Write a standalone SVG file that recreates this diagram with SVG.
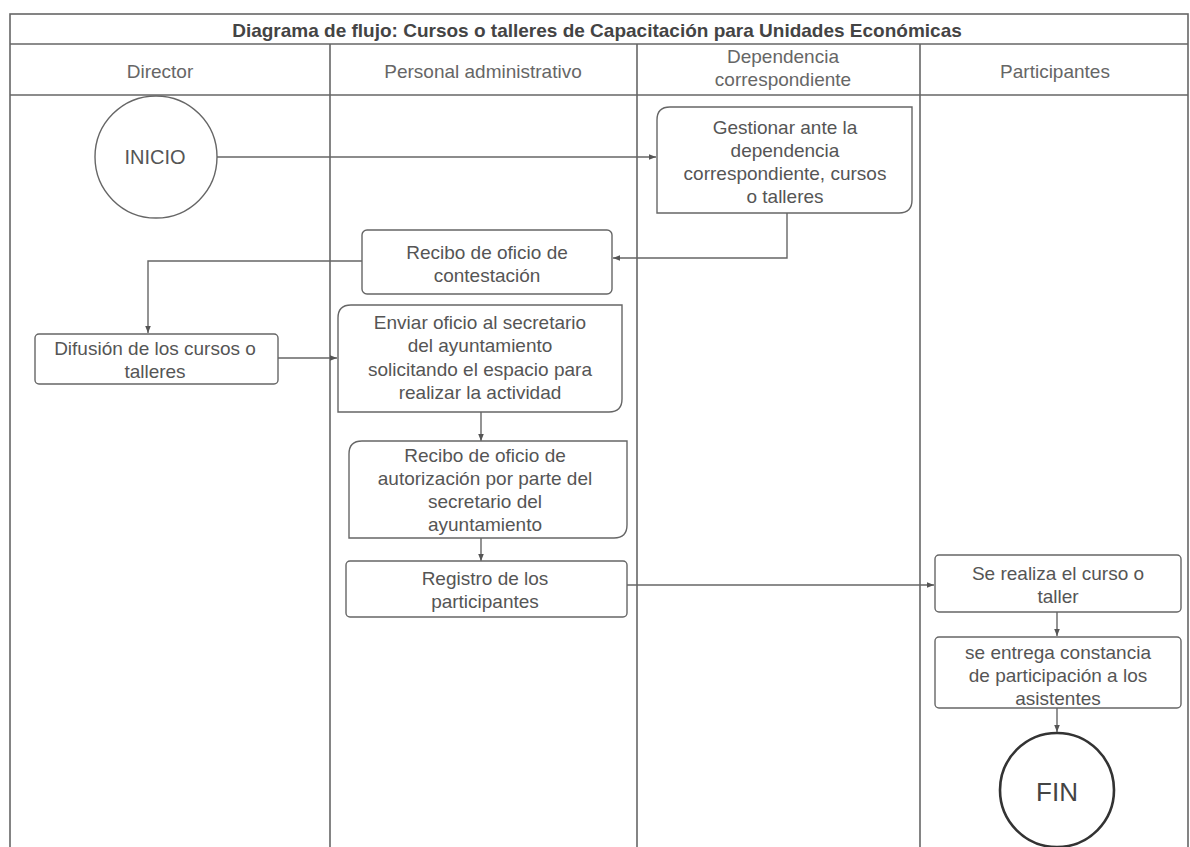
<svg xmlns="http://www.w3.org/2000/svg" width="1190" height="847" viewBox="0 0 1190 847">
  <defs>
    <style>
      .frame { fill: none; stroke: #666; stroke-width: 1.6; }
      .box { fill: #fff; stroke: #666; stroke-width: 1.4; }
      .conn { fill: none; stroke: #666; stroke-width: 1.4; }
      .t { font-family: "Liberation Sans", Arial, sans-serif; font-size: 19px; fill: #555; text-anchor: middle; }
      .hdr { font-family: "Liberation Sans", Arial, sans-serif; font-size: 19px; fill: #666; text-anchor: middle; }
      .title { font-family: "Liberation Sans", Arial, sans-serif; font-size: 19px; font-weight: bold; fill: #444; text-anchor: middle; }
      .inicio { font-size: 20px; }
      .fin { font-size: 26px; fill: #444; }
    </style>
    <marker id="arrow" viewBox="0 0 10 10" refX="10" refY="5" markerWidth="7" markerHeight="7" orient="auto" markerUnits="userSpaceOnUse">
      <path d="M0,1 L10,5 L0,9 z" fill="#555"/>
    </marker>
  </defs>
  <rect width="1190" height="847" fill="#fff"/>

  <!-- swimlane table -->
  <g id="lanes">
    <rect class="frame" x="10" y="14" width="1178" height="845"/>
    <line class="frame" x1="10" y1="44" x2="1188" y2="44"/>
    <line class="frame" x1="10" y1="95" x2="1188" y2="95"/>
    <line class="frame" x1="330" y1="44" x2="330" y2="847"/>
    <line class="frame" x1="637" y1="44" x2="637" y2="847"/>
    <line class="frame" x1="920" y1="44" x2="920" y2="847"/>
    <text class="title" x="597" y="37">Diagrama de flujo: Cursos o talleres de Capacitación para Unidades Económicas</text>
    <text class="hdr" x="160" y="78">Director</text>
    <text class="hdr" x="483" y="78">Personal administrativo</text>
    <text class="hdr" x="783" y="63">Dependencia</text>
    <text class="hdr" x="783" y="86">correspondiente</text>
    <text class="hdr" x="1055" y="78">Participantes</text>
  </g>

  <!-- connectors -->
  <g id="connectors">
    <path class="conn" d="M217,157 L656,157" marker-end="url(#arrow)"/>
    <path class="conn" d="M787,213 L787,258 L613,258" marker-end="url(#arrow)"/>
    <path class="conn" d="M362,261 L148,261 L148,333" marker-end="url(#arrow)"/>
    <path class="conn" d="M278,358 L337,358" marker-end="url(#arrow)"/>
    <path class="conn" d="M481,412 L481,441" marker-end="url(#arrow)"/>
    <path class="conn" d="M481,538 L481,561" marker-end="url(#arrow)"/>
    <path class="conn" d="M627,585 L934,585" marker-end="url(#arrow)"/>
    <path class="conn" d="M1057,612 L1057,636" marker-end="url(#arrow)"/>
    <path class="conn" d="M1057,708 L1057,732" marker-end="url(#arrow)"/>
  </g>

  <g id="inicio">
    <circle class="box" cx="156" cy="157" r="61"/>
    <text class="t inicio" x="155" y="164">INICIO</text>
  </g>

  <g id="gestionar">
    <path class="box" d="M670,107 L912,107 L912,200 Q912,213 899,213 L657,213 L657,120 Q657,107 670,107 Z"/>
    <text class="t" x="785" y="134">Gestionar ante la</text>
    <text class="t" x="785" y="157">dependencia</text>
    <text class="t" x="785" y="180">correspondiente, cursos</text>
    <text class="t" x="785" y="203">o talleres</text>
  </g>

  <g id="recibo-contestacion">
    <rect class="box" x="362" y="230" width="250" height="64" rx="5"/>
    <text class="t" x="487" y="259">Recibo de oficio de</text>
    <text class="t" x="487" y="282">contestación</text>
  </g>

  <g id="difusion">
    <rect class="box" x="35" y="334" width="243" height="50" rx="4"/>
    <text class="t" x="155" y="355">Difusión de los cursos o</text>
    <text class="t" x="155" y="378">talleres</text>
  </g>

  <g id="enviar-oficio">
    <path class="box" d="M351,305 L622,305 L622,399 Q622,412 609,412 L338,412 L338,318 Q338,305 351,305 Z"/>
    <text class="t" x="480" y="329">Enviar oficio al secretario</text>
    <text class="t" x="480" y="352">del ayuntamiento</text>
    <text class="t" x="480" y="376">solicitando el espacio para</text>
    <text class="t" x="480" y="399">realizar la actividad</text>
  </g>

  <g id="recibo-autorizacion">
    <path class="box" d="M362,441 L627,441 L627,525 Q627,538 614,538 L349,538 L349,454 Q349,441 362,441 Z"/>
    <text class="t" x="485" y="462">Recibo de oficio de</text>
    <text class="t" x="485" y="485">autorización por parte del</text>
    <text class="t" x="485" y="508">secretario del</text>
    <text class="t" x="485" y="531">ayuntamiento</text>
  </g>

  <g id="registro">
    <rect class="box" x="346" y="561" width="281" height="56" rx="4"/>
    <text class="t" x="485" y="585">Registro de los</text>
    <text class="t" x="485" y="608">participantes</text>
  </g>

  <g id="realiza-curso">
    <rect class="box" x="935" y="555" width="246" height="57" rx="4"/>
    <text class="t" x="1058" y="580">Se realiza el curso o</text>
    <text class="t" x="1058" y="603">taller</text>
  </g>

  <g id="entrega-constancia">
    <rect class="box" x="935" y="637" width="246" height="71" rx="4"/>
    <text class="t" x="1058" y="659">se entrega constancia</text>
    <text class="t" x="1058" y="682">de participación a los</text>
    <text class="t" x="1058" y="705">asistentes</text>
  </g>

  <g id="fin">
    <circle cx="1057" cy="790" r="57" fill="#fff" stroke="#333" stroke-width="2.6"/>
    <text class="t fin" x="1057" y="801">FIN</text>
  </g>
</svg>
